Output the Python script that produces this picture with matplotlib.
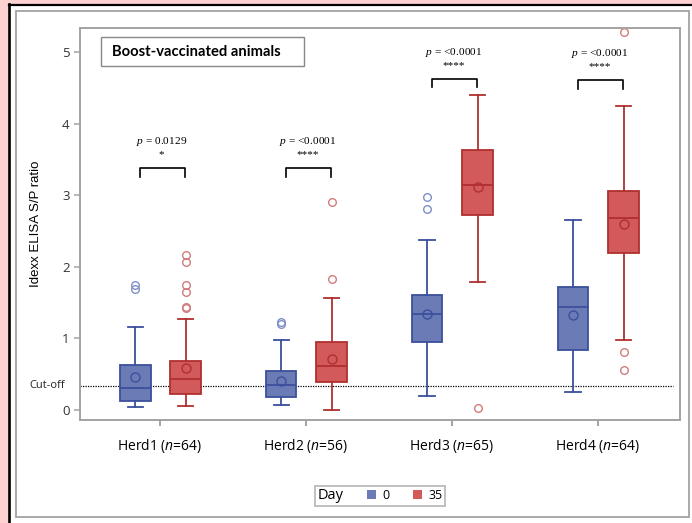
import matplotlib
matplotlib.use("Agg")
import matplotlib.pyplot as plt
import matplotlib.transforms as mtransforms
from matplotlib.patches import Patch, Rectangle
from matplotlib.lines import Line2D

# ---- data -------------------------------------------------------------
herds = ["Herd1", "Herd2", "Herd3", "Herd4"]
herd_n = [64, 56, 65, 64]
days = ["0", "35"]

# per herd: [day 0, day 35]
whisker_low = [[0.04, 0.05], [0.06, 0.00], [0.19, 1.78], [0.25, 0.97]]
q1 = [[0.12, 0.22], [0.17, 0.39], [0.94, 2.72], [0.84, 2.19]]
medians = [[0.30, 0.43], [0.35, 0.61], [1.34, 3.15], [1.43, 2.68]]
q3 = [[0.63, 0.68], [0.54, 0.94], [1.60, 3.63], [1.72, 3.06]]
whisker_high = [[1.16, 1.27], [0.97, 1.56], [2.37, 4.40], [2.66, 4.25]]
means = [[0.46, 0.58], [0.40, 0.71], [1.34, 3.11], [1.33, 2.60]]
outliers = [
    [[1.74, 1.69], [2.17, 2.06, 1.75, 1.65, 1.43, 1.42]],
    [[1.23, 1.20], [2.90, 1.83]],
    [[2.97, 2.81], [0.02]],
    [[], [5.29, 0.80, 0.55]],
]

p_values = ["0.0129", "<0.0001", "<0.0001", "<0.0001"]
stars = ["*", "****", "****", "****"]
cutoff = 0.33

# ---- style --------------------------------------------------------------
fill_colors = ["#6b7bb6", "#d25a5a"]
edge_colors = ["#3c4f9c", "#b02f2f"]
flier_colors = ["#7f8fc8", "#d07c7c"]
frame_gray = "#a3a3a3"
offsets = [-0.17, 0.175]
bracket_y = [3.38, 3.38, 4.63, 4.61]

plt.rcParams["mathtext.fontset"] = "custom"
plt.rcParams["mathtext.it"] = "Liberation Serif:italic"
plt.rcParams["mathtext.sf"] = "Open Sans:italic"

fig = plt.figure(figsize=(6.92, 5.23), dpi=100, facecolor="#ffd2d2")
W, H = 692.0, 523.0

# white panel, black rules on the left and top, grey border inside
fig.add_artist(Rectangle((9 / W, 0), 1, 1 - 5 / H, transform=fig.transFigure,
                         fc="white", ec="none", zorder=0))
fig.add_artist(Line2D([8.5 / W, 8.5 / W], [0, 1 - 4 / H], transform=fig.transFigure,
                      color="black", lw=1.9))
fig.add_artist(Line2D([8.5 / W, 1], [1 - 4.5 / H, 1 - 4.5 / H], transform=fig.transFigure,
                      color="black", lw=1.6))
fig.add_artist(Rectangle((15.7 / W, 1 - 517 / H), (689 - 15.7) / W, (517 - 10.7) / H,
                         transform=fig.transFigure, fill=False, ec=frame_gray, lw=1.3))

ax_top, ax_bottom = 28.0, 420.0
ax = fig.add_axes([80 / W, 1 - ax_bottom / H, 600 / W, (ax_bottom - ax_top) / H])

for j in range(len(days)):
    stats = []
    for i in range(len(herds)):
        stats.append(dict(med=medians[i][j], q1=q1[i][j], q3=q3[i][j],
                          whislo=whisker_low[i][j], whishi=whisker_high[i][j],
                          mean=means[i][j], fliers=outliers[i][j]))
    pos = [i + offsets[j] for i in range(len(herds))]
    ax.bxp(stats, positions=pos, widths=0.21, capwidths=0.105,
           patch_artist=True, showmeans=True, meanline=False,
           boxprops=dict(facecolor=fill_colors[j], edgecolor=edge_colors[j], lw=1.3),
           whiskerprops=dict(color=edge_colors[j], lw=1.3),
           capprops=dict(color=edge_colors[j], lw=1.3),
           medianprops=dict(color=edge_colors[j], lw=1.3),
           meanprops=dict(marker="o", markerfacecolor="none",
                          markeredgecolor=edge_colors[j], markersize=6.5, markeredgewidth=1),
           flierprops=dict(marker="o", markerfacecolor="none",
                           markeredgecolor=flier_colors[j], markersize=5.5, markeredgewidth=1))

ax.axhline(cutoff, xmin=0, xmax=0.988, color="black", ls=(0, (1, 1)), lw=0.9, zorder=1)

# significance brackets
for i in range(len(herds)):
    y = bracket_y[i]
    ax.plot([i - 0.135, i - 0.135, i + 0.17, i + 0.17], [y - 0.12, y, y, y - 0.12],
            color="black", lw=1.2)
    ax.text(i + 0.01, y + 0.37, "$p$ = " + p_values[i], ha="center", va="center",
            family="Liberation Serif", fontsize=8.2)
    ax.text(i + 0.01, y + 0.19, stars[i], ha="center", va="center",
            family="Liberation Serif", fontsize=8)

ax.set_xlim(-0.548, 3.562)
ax.set_ylim(-0.147, 5.343)
ax.set_xticks(range(len(herds)))
ax.set_xticklabels([f"{h} ($\\mathsf{{n}}$={n})" for h, n in zip(herds, herd_n)],
                   family="Open Sans", fontsize=10)
ax.set_yticks(range(6))
ax.set_yticklabels([str(v) for v in range(6)], family="Open Sans", fontsize=9.5,
                   color="#333333")
ax.tick_params(axis="x", length=4, width=1.4, color=frame_gray, pad=8)
ax.tick_params(axis="y", length=4.5, width=1.1, color=frame_gray, pad=3)
for s in ax.spines.values():
    s.set_color(frame_gray)
    s.set_linewidth(1.4)

ax.set_ylabel("Idexx ELISA S/P ratio", family="Liberation Sans", fontsize=9.5)
ax.yaxis.set_label_coords(-0.063, 0.5)

lab = mtransforms.blended_transform_factory(ax.transAxes, ax.transData)
ax.text(-0.025, cutoff, "Cut-off", transform=lab, ha="right", va="center",
        family="Open Sans", fontsize=8, color="#222222")

# panel title box, placed in pixel rows of the axes
span = ax_bottom - ax_top
ax.add_patch(Rectangle((0.035, (ax_bottom - 66) / span), 0.338, 29 / span,
                       transform=ax.transAxes, fill=False, ec="#888888", lw=1))
ax.text(0.053, (ax_bottom - 51.5) / span, "Boost-vaccinated animals", transform=ax.transAxes,
        ha="left", va="center", family="Lato", fontweight="bold", fontsize=10.6)

# legend laid out in one row: title, then entries
handles = [Patch(facecolor=fill_colors[j], edgecolor="none") for j in range(len(days))]
leg = fig.legend(handles, days, title="Day", ncol=2, loc="center",
                 bbox_to_anchor=(380 / W, 1 - 495.5 / H), frameon=True, fancybox=False,
                 edgecolor=frame_gray, handlelength=0.7, handleheight=0.7,
                 handletextpad=0.5, columnspacing=0.8, borderpad=0.2, borderaxespad=0,
                 prop=dict(family="Open Sans", size=9),
                 title_fontproperties=dict(family="Open Sans", size=10.5))
leg.get_frame().set_linewidth(1.2)
vbox = leg._legend_box
title_box, handle_box = vbox.get_children()
vbox._children = [handle_box]
handle_box._children.insert(0, title_box)
handle_box.sep = 17

fig.savefig("out.png", dpi=100, facecolor=fig.get_facecolor())
